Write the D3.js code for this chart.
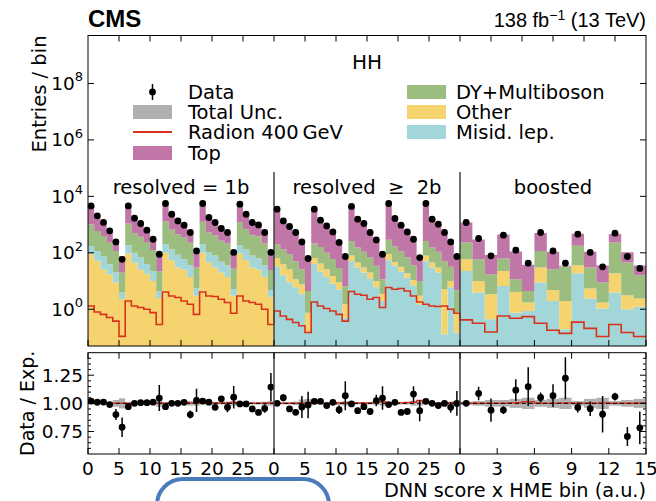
<!DOCTYPE html>
<html>
<head>
<meta charset="utf-8">
<script src="https://cdn.jsdelivr.net/npm/d3@7"></script>
<style>
  body { margin: 0; background: #fff; }
  svg text { font-family: "DejaVu Sans", sans-serif; fill: #000; }
</style>
</head>
<body>
<svg id="chart" width="656" height="501"></svg>
<script>
// ---- analysis regions and binning ----
const regionLabels = ["resolved = 1b", "resolved  \u2265  2b", "boosted"];
const regionBins = [30, 30, 15];
const regionTicks = [[0, 5, 10, 15, 20, 25], [0, 5, 10, 15, 20, 25], [0, 3, 6, 9, 12, 15]];

// ---- background yields per bin (resolved = 1b | resolved >= 2b | boosted) ----
const misidLep = [
  87, 65, 51, 22, 11, 1.6,   90, 55, 45, 22, 12, 1.8,   100, 75, 55, 35, 22, 2.5,
  100, 60, 50, 28, 22, 2.2,   95, 75, 50, 38, 22, 2,
  33.5, 16, 9, 6, 3.4, 0.15,   40, 22, 14, 8, 5, 0.5,   50, 30, 20, 12, 6, 2,
  55, 35, 22, 13, 7, 1.5,   50, 30, 20, 0.13, 6, 0.15,
  22.8, 3.9, 0.44, 6.7, 0.76, 0.87, 8.85, 1.97, 0.195, 18.9, 2.39, 1.06, 3.9, 1.0, 1.25
];
const other = [
  89, 52, 26, 17.4, 8.9, 2.3,   95, 45, 25, 18, 10, 2.5,   100, 55, 30, 25, 14, 3,
  100, 45, 30, 20, 14, 3,   95, 55, 30, 25, 14, 2.8,
  31, 23, 17, 5.6, 4.3, 0.6,   25, 20, 12, 7, 4, 1,   30, 15, 10, 8, 4, 1.5,
  35, 12, 10, 6, 4, 1.5,   30, 15, 10, 5, 4, 0.6,
  36, 6.2, 3.0, 16.1, 3.35, 0.86, 21.3, 2.83, 1.77, 17.4, 3.03, 0.67, 15, 2.14, 1.14
];
const dyMultiboson = [
  857, 481, 320, 193, 97, 16,   900, 400, 300, 200, 105, 18,   1100, 560, 370, 290, 190, 25,
  1050, 420, 330, 220, 180, 22,   1000, 560, 340, 320, 180, 20,
  138, 95, 63, 38, 18.5, 3.7,   150, 120, 75, 45, 20, 5,   180, 110, 80, 50, 25, 8,
  200, 120, 80, 50, 25, 7,   180, 110, 80, 45, 22, 4,
  173, 49, 14, 40, 7.5, 2.73, 87, 21.4, 30.7, 140, 24.7, 7.1, 213, 42.2, 13.6
];
const topQuark = [
  3457, 1420, 780, 376, 154, 55,   3660, 1187, 717, 389, 173, 62.7,   4471, 1649, 897, 593, 357, 83.5,
  4238, 1243, 819, 431, 328, 70.5,   4122, 1661, 828, 677, 334, 65.2,
  3314, 1154, 813, 521, 226, 59.5,   3239, 1245, 816, 486, 217, 62.8,   4147, 1506, 1017, 496, 245, 73.5,
  5370, 1462, 923, 525, 244, 62.7,   5239, 1398, 944, 475, 221, 69.3,
  954, 236, 65.6, 385, 99.4, 33, 382, 83.3, 2.5, 298, 78, 26.6, 235, 59.5, 19.8
];
const radion400 = [
  1.31, 0.80, 0.66, 0.51, 0.38, 0.11,   1.97, 1.31, 1.15, 1.0, 0.76, 0.29,   4.1, 2.96, 2.6, 1.97, 1.5, 0.66,
  4.1, 2.96, 2.82, 2.26, 1.73, 0.72,   2.96, 1.97, 1.73, 1.5, 1.0, 0.29,
  0.87, 0.58, 0.44, 0.34, 0.26, 0.15,   1.82, 1.31, 1.06, 0.87, 0.66, 0.38,   4.24, 3.4, 3.14, 2.26, 2.6, 1.15,
  5.88, 5.12, 5.42, 4.46, 2.96, 1.82,   1.5, 1.31, 1.25, 1.31, 1.0, 0.72,
  0.42, 0.32, 0.157, 0.58, 0.48, 0.55, 0.32, 0.18, 0.14, 0.35, 0.21, 0.108, 0.29, 0.15, 0.108
];
const observed = [
  4580, 2038, 1190, 602, 244, 59,   4603, 1687, 1094, 633, 303, 89,   5598, 2339, 1352, 952, 525, 117,
  5598, 1786, 1186, 727, 525, 103,   5286, 2339, 1186, 975, 525, 103,
  3516, 1352, 857, 525, 244, 63,   3516, 1432, 899, 551, 232, 74,   4385, 1553, 1094, 525, 287, 89,
  5598, 1644, 952, 551, 303, 68,   5598, 1553, 1033, 525, 244, 74,
  1186, 321, 78, 421, 124, 43, 525, 117, 43, 457, 103, 32, 495, 74, 28
];
// relative uncertainty on the observed yield
const observedRelErr = [
  0.015, 0.015, 0.015, 0.02, 0.055, 0.11,   0.02, 0.02, 0.02, 0.02, 0.025, 0.11,   0.02, 0.015, 0.015, 0.02, 0.04, 0.1,
  0.02, 0.02, 0.025, 0.02, 0.045, 0.095,   0.02, 0.02, 0.02, 0.02, 0.04, 0.11,
  0.02, 0.03, 0.02, 0.025, 0.1, 0.12,   0.02, 0.02, 0.02, 0.02, 0.04, 0.12,   0.02, 0.02, 0.02, 0.025, 0.05, 0.1,
  0.02, 0.02, 0.025, 0.025, 0.065, 0.1,   0.02, 0.02, 0.02, 0.02, 0.05, 0.11,
  0.02, 0.055, 0.11, 0.037, 0.087, 0.15, 0.042, 0.094, 0.152, 0.046, 0.068, 0.18, 0.033, 0.12, 0.185
];
// relative total uncertainty on the expected yield
const expRelUnc = [
  0.01, 0.01, 0.01, 0.015, 0.03, 0.045,   0.01, 0.01, 0.01, 0.01, 0.015, 0.03,   0.01, 0.01, 0.01, 0.01, 0.02, 0.02,
  0.01, 0.01, 0.01, 0.01, 0.015, 0.02,   0.01, 0.01, 0.01, 0.01, 0.015, 0.02,
  0.01, 0.01, 0.01, 0.015, 0.035, 0.04,   0.01, 0.01, 0.01, 0.01, 0.015, 0.02,   0.01, 0.01, 0.01, 0.01, 0.015, 0.02,
  0.01, 0.01, 0.01, 0.01, 0.02, 0.02,   0.01, 0.01, 0.01, 0.01, 0.015, 0.02,
  0.015, 0.02, 0.03, 0.03, 0.04, 0.05, 0.03, 0.04, 0.05, 0.02, 0.04, 0.05, 0.02, 0.03, 0.04
];

// ---- styling ----
const colors = {
  top: "#c076a6", dy: "#9cbd80", other: "#f5d36e", misid: "#a3d6d9",
  radion: "#d9321c", unc: "#b0b0b0"
};
// stacking order (bottom to top) per region
const stackOrder = [
  ["other", "misid", "dy", "top"],
  ["misid", "other", "dy", "top"],
  ["misid", "other", "dy", "top"]
];

const svg = d3.select("#chart");
const X0 = 88, X1 = 646;
const MAIN_TOP = 35.5, MAIN_BOT = 346;
const RAT_TOP = 352.7, RAT_BOT = 454;
const DIVIDER_TOP = 172;
const regW = (X1 - X0) / regionBins.length;

const xScales = regionBins.map((n, r) =>
  d3.scaleLinear().domain([0, n]).range([X0 + r * regW, X0 + (r + 1) * regW]));
const y = d3.scaleLog().domain([0.05, 5e9]).range([MAIN_BOT, MAIN_TOP]);
const yr = d3.scaleLinear().domain([0.55, 1.45]).range([RAT_BOT, RAT_TOP]);
const Y_MIN = 0.05;

// assemble per-bin records
const bins = [];
let g = 0;
regionBins.forEach((n, r) => {
  for (let i = 0; i < n; i++, g++) {
    const rec = {
      r, i,
      misid: misidLep[g], other: other[g], dy: dyMultiboson[g], top: topQuark[g],
      radion: radion400[g], data: observed[g], err: observedRelErr[g], unc: expRelUnc[g]
    };
    rec.exp = rec.misid + rec.other + rec.dy + rec.top;
    bins.push(rec);
  }
});
const byRegion = regionBins.map((_, r) => bins.filter(b => b.r === r));

// clip paths
const defs = svg.append("defs");
defs.append("clipPath").attr("id", "clipMain").append("rect")
  .attr("x", X0).attr("y", MAIN_TOP).attr("width", X1 - X0).attr("height", MAIN_BOT - MAIN_TOP);
defs.append("clipPath").attr("id", "clipRat").append("rect")
  .attr("x", X0).attr("y", RAT_TOP).attr("width", X1 - X0).attr("height", RAT_BOT - RAT_TOP);

const main = svg.append("g").attr("clip-path", "url(#clipMain)");
const rat = svg.append("g").attr("clip-path", "url(#clipRat)");

// ---- stacked backgrounds ----
byRegion.forEach((rb, r) => {
  const xs = xScales[r];
  const stack = d3.stack().keys(stackOrder[r])(rb);
  stack.forEach(layer => {
    const pts = layer.map((d, i) => ({ i, lo: d[0], hi: d[1] }));
    pts.push({ i: rb.length, lo: pts[pts.length - 1].lo, hi: pts[pts.length - 1].hi });
    const area = d3.area().curve(d3.curveStepAfter)
      .x(d => xs(d.i))
      .y0(d => y(Math.max(d.lo, Y_MIN)))
      .y1(d => y(Math.max(d.hi, Y_MIN)));
    main.append("path").attr("d", area(pts)).attr("fill", colors[layer.key]);
  });
});

// ---- signal line (step) across all regions ----
const sigPts = [];
byRegion.forEach((rb, r) => {
  rb.forEach(b => sigPts.push([xScales[r](b.i), b.radion]));
  sigPts.push([xScales[r](rb.length), rb[rb.length - 1].radion]);
});
const stepLine = d3.line().curve(d3.curveStepAfter);
main.append("path")
  .attr("d", stepLine(sigPts.map(p => [p[0], y(p[1])])))
  .attr("fill", "none").attr("stroke", colors.radion).attr("stroke-width", 1.6);

// ---- region dividers ----
[1, 2].forEach(r => {
  const xd = X0 + r * regW;
  svg.append("line").attr("x1", xd).attr("x2", xd).attr("y1", DIVIDER_TOP).attr("y2", MAIN_BOT)
    .attr("stroke", "#444").attr("stroke-width", 1.5);
  svg.append("line").attr("x1", xd).attr("x2", xd).attr("y1", RAT_TOP).attr("y2", RAT_BOT)
    .attr("stroke", "#444").attr("stroke-width", 1.5);
});

// ---- observed points ----
const obs = svg.append("g");
bins.forEach(b => {
  const cx = xScales[b.r](b.i + 0.5);
  obs.append("line").attr("x1", cx).attr("x2", cx)
    .attr("y1", y(b.data * (1 - b.err))).attr("y2", y(b.data * (1 + b.err)))
    .attr("stroke", "#000").attr("stroke-width", 1.5);
  obs.append("circle").attr("cx", cx).attr("cy", y(b.data)).attr("r", 3.4).attr("fill", "#000");
});

// ---- ratio panel ----
bins.forEach(b => {
  const xs = xScales[b.r];
  rat.append("rect")
    .attr("x", xs(b.i)).attr("width", xs(b.i + 1) - xs(b.i))
    .attr("y", yr(1 + b.unc)).attr("height", yr(1 - b.unc) - yr(1 + b.unc))
    .attr("fill", colors.unc);
});
const sigRatioPts = [];
byRegion.forEach((rb, r) => {
  rb.forEach(b => sigRatioPts.push([xScales[r](b.i), (b.exp + b.radion) / b.exp]));
  const last = rb[rb.length - 1];
  sigRatioPts.push([xScales[r](rb.length), (last.exp + last.radion) / last.exp]);
});
rat.append("path")
  .attr("d", stepLine(sigRatioPts.map(p => [p[0], yr(p[1])])))
  .attr("fill", "none").attr("stroke", colors.radion).attr("stroke-width", 1.5);
rat.append("line").attr("x1", X0).attr("x2", X1).attr("y1", yr(1)).attr("y2", yr(1))
  .attr("stroke", "#000").attr("stroke-width", 1).attr("stroke-dasharray", "4,3");
bins.forEach(b => {
  const cx = xScales[b.r](b.i + 0.5);
  const ratio = b.data / b.exp;
  const e = b.data * b.err / b.exp;
  rat.append("line").attr("x1", cx).attr("x2", cx)
    .attr("y1", yr(ratio - e)).attr("y2", yr(ratio + e))
    .attr("stroke", "#000").attr("stroke-width", 1.5);
  rat.append("circle").attr("cx", cx).attr("cy", yr(ratio)).attr("r", 3.4).attr("fill", "#000");
});

// ---- frames ----
[[MAIN_TOP, MAIN_BOT], [RAT_TOP, RAT_BOT]].forEach(([t, b]) => {
  svg.append("rect").attr("x", X0).attr("y", t).attr("width", X1 - X0).attr("height", b - t)
    .attr("fill", "none").attr("stroke", "#000").attr("stroke-width", 1);
});

// ---- ticks ----
const ticks = svg.append("g").attr("stroke", "#000").attr("stroke-width", 1);
function vTick(x, yEdge, len) { ticks.append("line").attr("x1", x).attr("x2", x).attr("y1", yEdge).attr("y2", yEdge + len); }
function hTick(yv, xEdge, len) { ticks.append("line").attr("x1", xEdge).attr("x2", xEdge + len).attr("y1", yv).attr("y2", yv); }

// main y (log)
const mainMajors = [1e0, 1e2, 1e4, 1e6, 1e8];
mainMajors.forEach(v => { hTick(y(v), X0, 6); hTick(y(v), X1, -6); });
// ratio y
const ratMajors = [0.75, 1.0, 1.25];
d3.range(0.6, 1.45, 0.05).forEach(v => {
  const major = ratMajors.some(m => Math.abs(m - v) < 1e-6);
  const len = major ? 6 : 3;
  hTick(yr(v), X0, len); hTick(yr(v), X1, -len);
});
// x ticks per region
regionTicks.forEach((tv, r) => {
  tv.forEach(t => {
    const xv = xScales[r](t);
    vTick(xv, MAIN_BOT, -6);
    vTick(xv, RAT_TOP, 6);
    vTick(xv, RAT_BOT, -6);
  });
});
// top edge of upper panel: uniform every 5 resolved-bin units
const topUnit = d3.scaleLinear().domain([0, 90]).range([X0, X1]);
d3.range(5, 90, 5).forEach(t => vTick(topUnit(t), MAIN_TOP, 6));

// ---- tick labels ----
const lab = svg.append("g").style("font-size", "18.5px");
mainMajors.forEach(v => {
  const t = lab.append("text").attr("x", 83).attr("y", y(v) + 6.5).attr("text-anchor", "end");
  t.append("tspan").text("10");
  t.append("tspan").attr("dy", -8.5).style("font-size", "13px").text(String(Math.round(Math.log10(v))));
});
ratMajors.forEach(v => {
  lab.append("text").attr("x", 83).attr("y", yr(v) + 6.5).attr("text-anchor", "end").text(v.toFixed(2));
});
regionTicks.forEach((tv, r) => {
  tv.forEach(t => {
    lab.append("text").attr("x", xScales[r](t)).attr("y", 475).attr("text-anchor", "middle").text(t);
  });
});

// ---- axis titles ----
svg.append("text").attr("transform", `translate(46,${MAIN_TOP}) rotate(-90)`)
  .attr("text-anchor", "end").style("font-size", "19.5px").text("Entries / bin");
svg.append("text").attr("transform", `translate(34,${yr(1)}) rotate(-90)`)
  .attr("text-anchor", "middle").style("font-size", "19px").text("Data / Exp.");
svg.append("text").attr("x", X1).attr("y", 497).attr("text-anchor", "end")
  .style("font-size", "19.3px").text("DNN score x HME bin (a.u.)");

// ---- headers ----
svg.append("text").attr("x", X0).attr("y", 27).style("font-family", "'Liberation Sans', Arial, sans-serif")
  .style("font-weight", "bold").style("font-size", "24px").text("CMS");
const lumi = svg.append("text").attr("x", X1).attr("y", 27).attr("text-anchor", "end")
  .style("font-family", "'Liberation Sans', Arial, sans-serif").style("font-size", "20px");
lumi.append("tspan").text("138 fb");
lumi.append("tspan").attr("dy", -7).style("font-size", "14px").text("\u22121");
lumi.append("tspan").attr("dy", 7).text(" (13 TeV)");

svg.append("text").attr("x", (X0 + X1) / 2).attr("y", 69).attr("text-anchor", "middle")
  .style("font-size", "20px").text("HH");

regionLabels.forEach((t, r) => {
  svg.append("text").attr("x", X0 + (r + 0.5) * regW).attr("y", 194).attr("text-anchor", "middle")
    .style("font-size", "19.5px").style("white-space", "pre").text(t);
});

// ---- legend ----
const leg = svg.append("g").style("font-size", "19.5px");
const rowY = [92, 112, 132, 153];
// left column
const lx = 133, lw = 39;
leg.append("line").attr("x1", lx + lw / 2).attr("x2", lx + lw / 2).attr("y1", rowY[0] - 8).attr("y2", rowY[0] + 8)
  .attr("stroke", "#000").attr("stroke-width", 1.5);
leg.append("circle").attr("cx", lx + lw / 2).attr("cy", rowY[0]).attr("r", 3.4).attr("fill", "#000");
leg.append("rect").attr("x", lx).attr("y", rowY[1] - 7).attr("width", lw).attr("height", 14).attr("fill", colors.unc);
leg.append("line").attr("x1", lx).attr("x2", lx + lw).attr("y1", rowY[2]).attr("y2", rowY[2])
  .attr("stroke", colors.radion).attr("stroke-width", 1.8);
leg.append("rect").attr("x", lx).attr("y", rowY[3] - 7).attr("width", lw).attr("height", 14).attr("fill", colors.top);
["Data", "Total Unc.", "Radion 400\u2009GeV", "Top"].forEach((t, k) => {
  leg.append("text").attr("x", 188).attr("y", rowY[k] + 7).text(t);
});
// right column
const rx = 407;
[["dy", "DY+Multiboson"], ["other", "Other"], ["misid", "Misid. lep."]].forEach(([key, t], k) => {
  leg.append("rect").attr("x", rx).attr("y", rowY[k] - 7).attr("width", lw).attr("height", 14).attr("fill", colors[key]);
  leg.append("text").attr("x", 456).attr("y", rowY[k] + 7).text(t);
});

// ---- highlight outline below the axis ----
svg.append("rect").attr("x", 157).attr("y", 479).attr("width", 172).attr("height", 70).attr("rx", 26)
  .attr("fill", "none").attr("stroke", "#4a7cbc").attr("stroke-width", 4);
</script>
</body>
</html>
